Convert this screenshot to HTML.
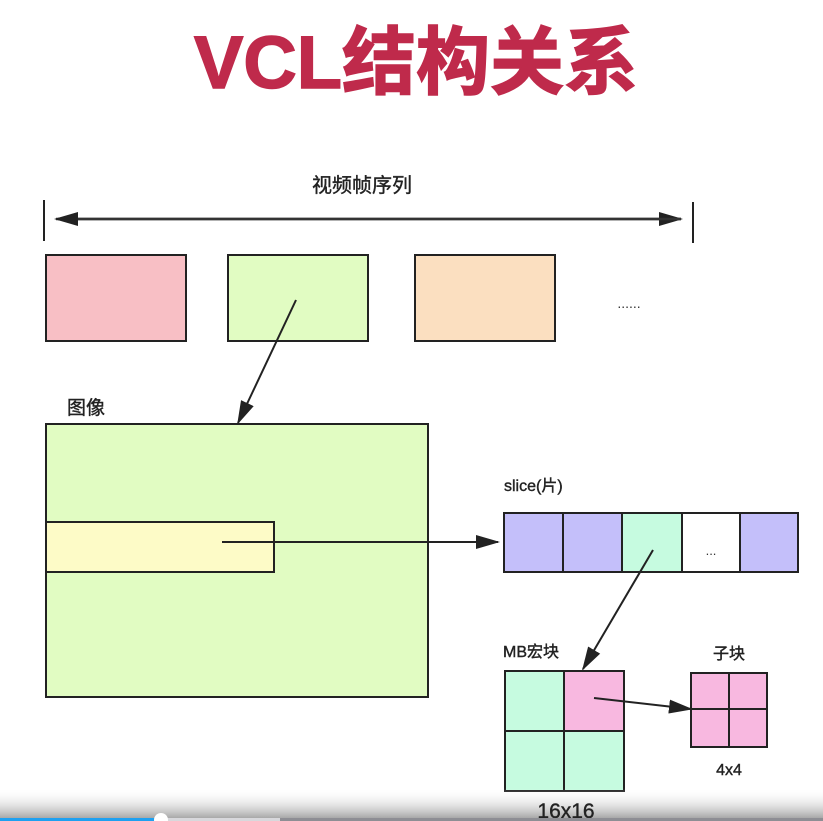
<!DOCTYPE html>
<html><head><meta charset="utf-8"><style>
html,body{margin:0;padding:0;background:#fff;}
body{width:823px;height:821px;overflow:hidden;position:relative;}
svg{position:absolute;left:0;top:0;}
text{font-family:"Liberation Sans","Noto Sans CJK SC",sans-serif;}
</style></head><body>
<svg width="823" height="821" viewBox="0 0 823 821">
<defs>
<marker id="b" markerWidth="24" markerHeight="16" refX="22" refY="8" orient="auto" markerUnits="userSpaceOnUse" viewBox="0 0 24 16">
<path d="M0,1 L24,8 L0,15 z" fill="#222"/></marker>
<linearGradient id="g" x1="0" y1="0" x2="0" y2="1">
<stop offset="0" stop-color="#fff" stop-opacity="0"/><stop offset="1" stop-color="#999" stop-opacity="0.85"/></linearGradient>
</defs>
<text x="416" y="88" text-anchor="middle" font-size="74" font-weight="bold" fill="#bf2a4b" stroke="#bf2a4b" stroke-width="1.5">VCL结构关系</text>
<text x="362" y="192" text-anchor="middle" font-size="20" fill="#222" stroke="#222" stroke-width="0.4">视频帧序列</text>
<line x1="44" y1="200" x2="44" y2="241" stroke="#222" stroke-width="2"/>
<line x1="693" y1="202" x2="693" y2="243" stroke="#222" stroke-width="2"/>
<line x1="58" y1="219" x2="681" y2="219" stroke="#333" stroke-width="2.5" marker-end="url(#b)"/>
<line x1="681" y1="219" x2="56" y2="219" stroke="#333" stroke-width="2.5" marker-end="url(#b)"/>
<g stroke="#222" stroke-width="2">
<rect x="46" y="255" width="140" height="86" fill="#f8bfc5"/>
<rect x="228" y="255" width="140" height="86" fill="#e1fcc2"/>
<rect x="415" y="255" width="140" height="86" fill="#fbdfc0"/>
<rect x="46" y="424" width="382" height="273" fill="#e1fcc2"/>
<rect x="46" y="522" width="228" height="50" fill="#fdfbc7"/>
<rect x="504" y="513" width="59" height="59" fill="#c4bffa"/>
<rect x="563" y="513" width="59" height="59" fill="#c4bffa"/>
<rect x="622" y="513" width="60" height="59" fill="#c6fbe0"/>
<rect x="682" y="513" width="58" height="59" fill="#fff"/>
<rect x="740" y="513" width="58" height="59" fill="#c4bffa"/>
<rect x="505" y="671" width="59" height="60" fill="#c6fbe0"/>
<rect x="564" y="671" width="60" height="60" fill="#f8b8e0"/>
<rect x="505" y="731" width="59" height="60" fill="#c6fbe0"/>
<rect x="564" y="731" width="60" height="60" fill="#c6fbe0"/>
<rect x="691" y="673" width="38" height="36" fill="#f8b8e0"/>
<rect x="729" y="673" width="38" height="36" fill="#f8b8e0"/>
<rect x="691" y="709" width="38" height="38" fill="#f8b8e0"/>
<rect x="729" y="709" width="38" height="38" fill="#f8b8e0"/>
</g>
<text x="629" y="308" text-anchor="middle" font-size="14" fill="#333">......</text>
<text x="711" y="555" text-anchor="middle" font-size="13" fill="#333">...</text>
<g stroke="#222" stroke-width="2">
<line x1="296" y1="300" x2="238" y2="423" marker-end="url(#b)"/>
<line x1="222" y1="542" x2="498" y2="542" marker-end="url(#b)"/>
<line x1="653" y1="550" x2="583" y2="669" marker-end="url(#b)"/>
<line x1="594" y1="698" x2="691" y2="709" marker-end="url(#b)"/>
</g>
<g fill="#222" stroke="#222" stroke-width="0.4">
<text x="67" y="414" font-size="19">图像</text>
<text x="504" y="491" font-size="16">slice(片)</text>
<text x="503" y="657" font-size="16">MB宏块</text>
<text x="729" y="659" text-anchor="middle" font-size="16">子块</text>
<text x="729" y="775" text-anchor="middle" font-size="16">4x4</text>
</g>
<rect x="0" y="788" width="823" height="30" fill="url(#g)"/>
<text x="566" y="818" text-anchor="middle" font-size="21" fill="#222" stroke="#222" stroke-width="0.4">16x16</text>
<rect x="0" y="818" width="823" height="3" fill="#8e8e94"/>
<rect x="160" y="818" width="120" height="3" fill="#d8d8dc"/>
<rect x="0" y="818" width="158" height="3" fill="#1ea0f0"/>
<circle cx="161" cy="820" r="7" fill="#fff"/>
</svg>
</body></html>
